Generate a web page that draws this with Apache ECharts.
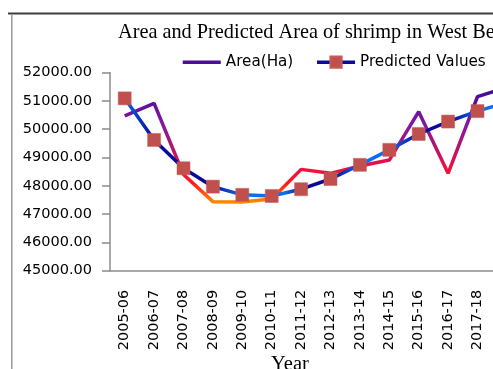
<!DOCTYPE html>
<html>
<head>
<meta charset="utf-8">
<title>Area and Predicted Area of shrimp in West Bengal</title>
<script src="https://cdn.jsdelivr.net/npm/echarts@6/dist/echarts.min.js"></script>
<style>
  html, body { margin: 0; padding: 0; background: #fff; overflow: hidden; }
  #chart { width: 560px; height: 369px; }
</style>
</head>
<body>
<div id="chart"></div>
<script>
// Crop years on the horizontal axis
const years = ['2005-06', '2006-07', '2007-08', '2008-09', '2009-10', '2010-11', '2011-12',
               '2012-13', '2013-14', '2014-15', '2015-16', '2016-17', '2017-18', '2018-19'];

// Observed shrimp area (ha)
const areaHa = [50470, 50910, 48400, 47440, 47430, 47530, 48580,
                48440, 48700, 48910, 50620, 48440, 51150, 51480];

// Fitted trend values
const predicted = [51090, 49620, 48620, 47970, 47680, 47640, 47880,
                   48240, 48740, 49270, 49830, 50270, 50640, 50950];

// Value axis range and step
const yMin = 45000, yMax = 52000, yStep = 1000;

const sans = 'DejaVu Sans';
const serif = 'Liberation Serif';
const axisGrey = '#8c8c8c';

const chart = echarts.init(document.getElementById('chart'), null, { renderer: 'canvas' });

const navy = '#0a0a9a', bright = '#0a6ef0';

chart.setOption({
  animation: false,
  backgroundColor: '#fff',
  title: {
    text: 'Area and Predicted Area of shrimp in West Bengal',
    left: 113, top: 18,
    textStyle: { fontFamily: serif, fontSize: 20.3, fontWeight: 'normal', color: '#000' }
  },
  legend: {
    show: true,
    left: 181, top: 54.7, padding: 0,
    itemWidth: 38, itemHeight: 14, itemGap: 22,
    textStyle: { fontFamily: sans, fontSize: 15.2, color: '#000' },
    data: [
      // plain line key: the marker is made fully transparent
      { name: 'Area(Ha)', itemStyle: { color: 'rgba(0,0,0,0)', borderWidth: 0, opacity: 0 },
        lineStyle: { color: '#4a0f92', width: 3.5 } },
      { name: 'Predicted Values', itemStyle: { color: '#c0504d' }, lineStyle: { color: navy, width: 3.5 } }
    ]
  },
  grid: { left: 110, top: 72.6, width: 411.6, height: 198.1, containLabel: false },
  xAxis: {
    type: 'category',
    data: years,
    axisLine: { lineStyle: { color: axisGrey, width: 1.5 } },
    axisTick: { length: 7, lineStyle: { color: axisGrey, width: 1.5 } },
    axisLabel: { rotate: 90, margin: 19, interval: 0, fontFamily: sans, fontSize: 14.5, color: '#000' }
  },
  yAxis: {
    type: 'value',
    min: yMin, max: yMax, interval: yStep,
    splitLine: { show: false },
    axisLine: { show: true, lineStyle: { color: axisGrey, width: 1.5 } },
    axisTick: { show: true, length: 8, lineStyle: { color: axisGrey, width: 1.5 } },
    axisLabel: {
      margin: 18, fontFamily: sans, fontSize: 14.5, color: '#000',
      formatter: v => v.toFixed(2)
    }
  },
  visualMap: {
    show: false, type: 'continuous', seriesIndex: 0, dimension: 1,
    min: 47400, max: 51500,
    inRange: { color: ['#ff8a00', '#ff1a1a', '#e8104a', '#b01470', '#8418a0', '#6410a0', '#3a0890'] }
  },
  series: [
    {
      name: 'Area(Ha)', type: 'line', data: areaHa,
      symbol: 'none', smooth: false,
      lineStyle: { width: 3.5 }, z: 2
    },
    {
      name: 'Predicted Values', type: 'line', data: predicted,
      symbol: 'rect', symbolSize: 13,
      itemStyle: { color: '#c0504d', borderColor: '#c85a57', borderWidth: 0.5 },
      lineStyle: {
        width: 3.5,
        color: new echarts.graphic.LinearGradient(0, 0, 1, 0, [
          { offset: 0.00, color: bright }, { offset: 0.08, color: navy },
          { offset: 0.23, color: navy },   { offset: 0.31, color: bright },
          { offset: 0.42, color: bright }, { offset: 0.47, color: navy },
          { offset: 0.54, color: navy },   { offset: 0.615, color: bright },
          { offset: 0.69, color: bright }, { offset: 0.77, color: navy },
          { offset: 0.85, color: navy },   { offset: 0.92, color: bright },
          { offset: 1.00, color: bright }
        ])
      },
      z: 3
    }
  ],
  graphic: [
    { type: 'line', shape: { x1: 8, y1: 13.5, x2: 560, y2: 13.5 }, style: { stroke: '#3f3f3f', lineWidth: 2 } },
    { type: 'line', shape: { x1: 11.8, y1: 14.5, x2: 11.8, y2: 369 }, style: { stroke: '#9a9a9a', lineWidth: 1.5 } },
    {
      type: 'text', x: 290, y: 365,
      style: { text: 'Year', font: '20.5px "Liberation Serif"', fill: '#000', textAlign: 'center', textVerticalAlign: 'middle' }
    }
  ]
});
</script>
</body>
</html>
